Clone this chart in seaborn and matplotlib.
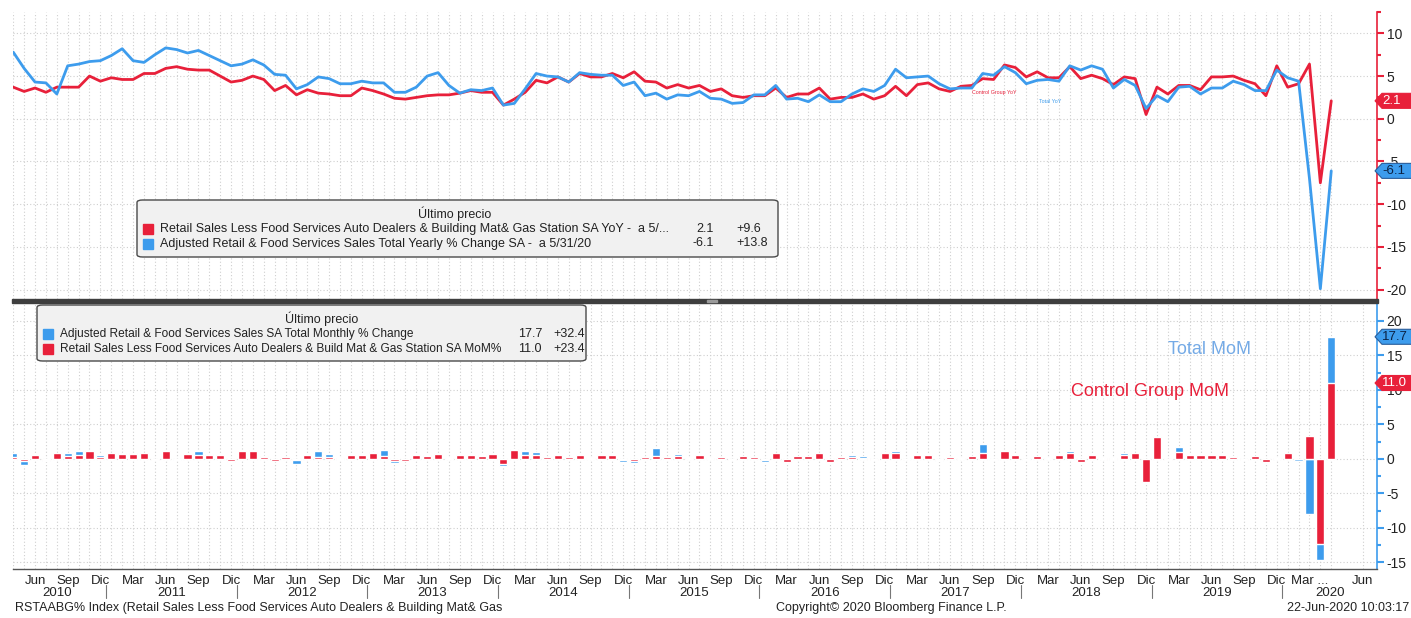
import numpy as np
import pandas as pd
import matplotlib
matplotlib.use("Agg")
import matplotlib.pyplot as plt
import seaborn as sns
from matplotlib.patches import Polygon, FancyBboxPatch, Rectangle

# monthly data, Apr 2010 .. May 2020 (index 0 = Apr 2010)
yoy_ctrl = [3.7, 3.2, 3.6, 3.1, 3.7, 3.7, 3.7, 5.0, 4.4, 4.8,
            4.6, 4.6, 5.3, 5.3, 5.9, 6.1, 5.8, 5.7, 5.7, 5.0,
            4.3, 4.5, 5.0, 4.6, 3.3, 3.9, 2.8, 3.4, 3.0, 2.9,
            2.7, 2.7, 3.6, 3.3, 2.9, 2.4, 2.3, 2.5, 2.7, 2.8,
            2.8, 3.0, 3.3, 3.1, 3.1, 1.6, 2.3, 3.1, 4.5, 4.2,
            4.9, 4.3, 5.3, 4.9, 4.9, 5.3, 4.8, 5.5, 4.4, 4.3,
            3.6, 4.0, 3.6, 3.9, 3.2, 3.5, 2.7, 2.5, 2.7, 2.7,
            3.6, 2.5, 2.9, 2.9, 3.6, 2.3, 2.5, 2.5, 2.9, 2.3,
            2.7, 3.8, 2.7, 4.0, 4.2, 3.5, 3.2, 3.8, 3.9, 4.7,
            4.6, 6.3, 6.0, 4.9, 5.5, 4.8, 4.8, 6.1, 4.7, 5.1,
            4.7, 4.0, 4.9, 4.7, 0.5, 3.7, 2.9, 3.9, 3.9, 3.4,
            4.9, 4.9, 5.0, 4.5, 4.1, 2.7, 6.2, 3.7, 4.1, 6.4,
            -7.5, 2.1]
yoy_total = [7.8, 5.9, 4.3, 4.2, 2.9, 6.2, 6.4, 6.7, 6.8, 7.4,
             8.2, 6.8, 6.6, 7.5, 8.3, 8.1, 7.7, 8.0, 7.4, 6.8,
             6.2, 6.4, 6.9, 6.3, 5.2, 5.1, 3.5, 4.0, 4.9, 4.7,
             4.1, 4.1, 4.4, 4.2, 4.2, 3.1, 3.1, 3.7, 5.0, 5.4,
             3.9, 3.0, 3.4, 3.3, 3.6, 1.6, 1.8, 3.5, 5.3, 5.0,
             4.9, 4.3, 5.4, 5.2, 5.1, 5.1, 3.9, 4.3, 2.7, 3.0,
             2.3, 2.8, 2.7, 3.2, 2.4, 2.3, 1.8, 1.9, 2.8, 2.8,
             3.9, 2.3, 2.4, 2.0, 2.8, 2.0, 2.0, 2.9, 3.5, 3.2,
             3.9, 5.8, 4.8, 4.9, 5.0, 4.1, 3.5, 3.6, 3.6, 5.3,
             5.1, 6.1, 5.4, 4.1, 4.5, 4.6, 4.4, 6.2, 5.7, 6.2,
             5.8, 3.6, 4.6, 3.9, 1.2, 2.7, 2.0, 3.7, 3.8, 2.9,
             3.6, 3.6, 4.4, 4.0, 3.3, 3.3, 5.7, 4.8, 4.4, -7.0,
             -19.9, -6.1]
mom_total = [0.8, -0.9, 0.4, -0.3, 0.6, 0.8, 1.2, 1.0, 0.6, 0.7,
             0.9, 0.9, 0.8, -0.1, 1.0, -0.1, 0.5, 1.1, 0.7, 0.4,
             -0.4, 1.0, 1.3, 0.4, -0.2, 0.3, -0.7, 0.5, 1.2, 0.7,
             -0.1, 0.6, 0.6, 1.0, 1.3, -0.6, -0.2, 0.4, 0.5, 0.6,
             0.1, 0.4, 0.4, 0.5, 0.6, -1.0, 1.5, 1.1, 1.0, 0.3,
             0.4, 0.1, 0.5, 0.1, 0.4, 0.5, -0.5, -0.6, 0.2, 1.6,
             -0.2, 0.7, 0.0, 0.5, 0.0, -0.2, -0.1, 0.4, 0.2, -0.5,
             0.6, -0.3, 0.3, 0.4, 0.7, -0.3, 0.2, 0.6, 0.4, 0.0,
             1.0, 1.1, 0.0, 0.5, 0.4, -0.3, 0.3, 0.1, 0.4, 2.2,
             -0.2, 1.0, 0.4, -0.1, 0.4, 0.1, 0.5, 1.1, -0.3, 0.4,
             0.0, -0.1, 0.8, 0.2, -2.0, 1.0, 0.0, 1.7, 0.4, 0.5,
             0.5, 0.5, 0.4, -0.1, 0.3, -0.2, 0.0, 0.6, -0.3, -8.0,
             -14.7, 17.7]
mom_ctrl = [0.3, -0.3, 0.5, -0.2, 0.9, 0.4, 0.6, 1.2, 0.3, 0.8,
            0.7, 0.7, 0.9, -0.2, 1.1, 0.0, 0.7, 0.5, 0.5, 0.5,
            -0.3, 1.1, 1.2, 0.2, -0.3, 0.2, -0.2, 0.6, 0.3, 0.3,
            0.1, 0.6, 0.6, 0.9, 0.4, -0.3, -0.3, 0.5, 0.4, 0.7,
            0.0, 0.5, 0.5, 0.4, 0.7, -0.8, 1.3, 0.6, 0.6, 0.2,
            0.5, 0.2, 0.6, 0.0, 0.5, 0.5, -0.2, -0.3, 0.3, 0.4,
            0.2, 0.4, 0.1, 0.5, 0.1, 0.2, -0.1, 0.4, 0.3, -0.2,
            0.8, -0.4, 0.4, 0.4, 0.8, -0.4, 0.3, 0.2, 0.1, -0.1,
            0.8, 0.9, 0.0, 0.6, 0.5, -0.1, 0.3, 0.1, 0.4, 0.9,
            0.0, 1.1, 0.5, 0.0, 0.4, 0.0, 0.5, 0.9, -0.5, 0.5,
            0.1, 0.1, 0.6, 0.9, -3.3, 3.2, -0.2, 1.0, 0.6, 0.6,
            0.6, 0.6, 0.3, -0.2, 0.4, -0.4, 0.1, 0.8, 0.0, 3.3,
            -12.4, 11.0]

month_names = ["Mar", "Jun", "Sep", "Dic"]
years = list(range(2010, 2021))

RED = "#e8203a"
BLUE = "#3d9ced"
GRID = "#cfcfcf"
W, H = 1411, 618
FS = 9.5

sns.set_theme(style="white")
plt.rcParams["font.family"] = ["Liberation Sans", "DejaVu Sans"]
plt.rcParams["text.color"] = "#222222"

idx = np.arange(len(yoy_ctrl))
df = pd.DataFrame({"m": idx, "yoy_ctrl": yoy_ctrl, "yoy_total": yoy_total,
                   "mom_total": mom_total, "mom_ctrl": mom_ctrl})

def fx(px):
    return px / W

def fy(py):
    return 1 - py / H

fig = plt.figure(figsize=(W / 100, H / 100), dpi=100)
left, right = fx(12.7), fx(1377)
ax1 = fig.add_axes([left, fy(299), right - left, fy(12) - fy(299)])
ax2 = fig.add_axes([left, fy(568.5), right - left, fy(303) - fy(568.5)])
xmax = 125.2

# top panel: YoY lines
sns.lineplot(data=df, x="m", y="yoy_ctrl", color=RED, lw=2.0, ax=ax1)
sns.lineplot(data=df, x="m", y="yoy_total", color=BLUE, lw=2.0, ax=ax1)

# bottom panel: MoM bars (red drawn over blue)
sns.barplot(data=df, x="m", y="mom_total", native_scale=True, color=BLUE,
            saturation=1, width=0.75, errorbar=None, ax=ax2)
sns.barplot(data=df, x="m", y="mom_ctrl", native_scale=True, color=RED,
            saturation=1, width=0.75, errorbar=None, ax=ax2)

for ax, col in [(ax1, RED), (ax2, BLUE)]:
    ax.set_xlim(-0.05, xmax)
    ax.set_xlabel("")
    ax.set_ylabel("")
    ax.set_axisbelow(True)
    ax.set_xticks(idx, minor=True)
    ax.set_yticks(np.arange(-20, 25, 5))
    ax.set_yticks(np.arange(-20, 22.5, 2.5), minor=True)
    ax.set_yticklabels([f"{v:g}" for v in np.arange(-20, 25, 5)])
    ax.grid(True, which="both", axis="x", color=GRID, ls=(0, (1, 2)), lw=0.8)
    ax.grid(True, which="major", axis="y", color=GRID, ls=(0, (1, 2)), lw=0.8)
    ax.yaxis.tick_right()
    for s in ["left", "top", "bottom"]:
        ax.spines[s].set_visible(False)
    ax.spines["right"].set_color(col)
    ax.spines["right"].set_linewidth(1.2)
    ax.tick_params(axis="y", which="both", direction="out", color=col,
                   labelcolor="#222222", width=1.5, labelsize=10, pad=2)
    ax.tick_params(axis="y", which="major", length=5)
    ax.tick_params(axis="y", which="minor", length=3)

ax1.set_ylim(-21.1, 12.5)
ax2.set_ylim(-15.9, 22.6)
ax1.tick_params(axis="x", which="both", length=0, labelbottom=False)

# bottom x axis: quarterly month labels, year labels below
ax2.spines["bottom"].set_visible(True)
ax2.spines["bottom"].set_color("#555555")
ax2.spines["bottom"].set_linewidth(1.0)
qpos = list(range(2, len(idx), 3))
qlab = [month_names[((p + 3) // 3) % 4] for p in qpos]
qlab[-1] = "Mar ..."
qpos.append(123.9)
qlab.append("Jun")
ax2.set_xticks(qpos)
ax2.set_xticklabels(qlab)
ax2.tick_params(axis="x", which="both", direction="out", length=3, width=0.8,
                color="#555555", labelsize=FS, pad=2, labelcolor="#222222")
tr = ax2.get_xaxis_transform()
for k, yr in enumerate(years):
    a = max(-0.5, 8.5 + 12 * (k - 1))
    b = min(xmax, 8.5 + 12 * k)
    ax2.text((a + b) / 2, -0.092, str(yr), transform=tr, ha="center",
             va="center", fontsize=FS)
    if k < len(years) - 1:
        ax2.plot([b, b], [-0.062, -0.112], transform=tr, color="#777777",
                 lw=0.8, clip_on=False)

# annotations
ax1.text(88.0, 3.05, "Control Group YoY", color=RED, fontsize=3.8, va="center")
ax1.text(94.2, 2.0, "Total YoY", color=BLUE, fontsize=3.8, va="center")
ax2.text(106.0, 15.9, "Total MoM", color="#74aae6", fontsize=13, va="center")
ax2.text(97.1, 9.8, "Control Group MoM", color=RED, fontsize=13, va="center")

# separator band between panels
fig.add_artist(Rectangle((fx(12), fy(303)), fx(1366), 4.5 / H, color="#3e3e3e",
                         transform=fig.transFigure))
fig.add_artist(Rectangle((fx(707), fy(301.5)), fx(10), 1.5 / H, color="#9a9a9a",
                         transform=fig.transFigure))

# last-value tags on the right axis
def tag(ax, val, col, tcol):
    x0 = ax.transAxes.transform((1, 0))[0] - 2
    y0 = ax.transData.transform((0, val))[1]
    h = 7.5
    pts = [(x0, y0), (x0 + 7, y0 + h), (W + 5, y0 + h), (W + 5, y0 - h), (x0 + 7, y0 - h)]
    pts = fig.transFigure.inverted().transform(pts)
    fig.add_artist(Polygon(pts, closed=True, facecolor=col,
                           edgecolor="#2a5d9a" if col == BLUE else col,
                           lw=0.8, transform=fig.transFigure))
    tx, ty = fig.transFigure.inverted().transform((x0 + 7, y0))
    fig.text(tx, ty, f"{val:.1f}", color=tcol, fontsize=FS, va="center", ha="left")

tag(ax1, yoy_ctrl[-1], RED, "white")
tag(ax1, yoy_total[-1], BLUE, "#0b2244")
tag(ax2, mom_total[-1], BLUE, "#0b2244")
tag(ax2, mom_ctrl[-1], RED, "white")

# legend boxes
def legend_box(x0, y0, x1, y1, title_x, rows, val_x, chg_x, lfs):
    fig.add_artist(FancyBboxPatch((fx(x0), fy(y1)), fx(x1 - x0), (y1 - y0) / H,
                                  boxstyle="round,pad=0,rounding_size=0.004",
                                  facecolor="#f1f1f1", edgecolor="#4a4a4a", lw=1.0,
                                  transform=fig.transFigure))
    fig.text(fx(title_x), fy(y0 + 14), "Último precio", ha="center", va="center", fontsize=9)
    for r, (col, label, last, chg) in enumerate(rows):
        yy = y0 + 29 + 14.5 * r
        fig.add_artist(Rectangle((fx(x0 + 6), fy(yy + 5)), fx(10), 10 / H, color=col,
                                 transform=fig.transFigure))
        fig.text(fx(x0 + 23), fy(yy), label, va="center", fontsize=lfs)
        fig.text(fx(val_x), fy(yy), f"{last:.1f}", va="center", ha="right", fontsize=9)
        fig.text(fx(chg_x), fy(yy), f"{chg:+.1f}", va="center", ha="left", fontsize=9)

legend_box(137, 200, 778, 257, 455, [
    (RED, "Retail Sales Less Food Services Auto Dealers & Building Mat& Gas Station SA YoY -  a 5/...",
     yoy_ctrl[-1], yoy_ctrl[-1] - yoy_ctrl[-2]),
    (BLUE, "Adjusted Retail & Food Services Sales Total Yearly % Change SA -  a 5/31/20",
     yoy_total[-1], yoy_total[-1] - yoy_total[-2]),
], 714, 736, 9.0)

legend_box(37, 305, 586, 361, 322, [
    (BLUE, "Adjusted Retail & Food Services Sales SA Total Monthly % Change",
     mom_total[-1], mom_total[-1] - mom_total[-2]),
    (RED, "Retail Sales Less Food Services Auto Dealers & Build Mat & Gas Station SA MoM%",
     mom_ctrl[-1], mom_ctrl[-1] - mom_ctrl[-2]),
], 542, 553, 8.6)

# footer
fig.text(fx(15), fy(608), "RSTAABG% Index (Retail Sales Less Food Services Auto Dealers & Building Mat& Gas",
         va="center", fontsize=9)
fig.text(fx(891), fy(608), "Copyright© 2020 Bloomberg Finance L.P.", va="center", ha="center", fontsize=9)
fig.text(fx(1409), fy(608), "22-Jun-2020 10:03:17", va="center", ha="right", fontsize=9)

fig.savefig("out.png", dpi=100, facecolor="white")
